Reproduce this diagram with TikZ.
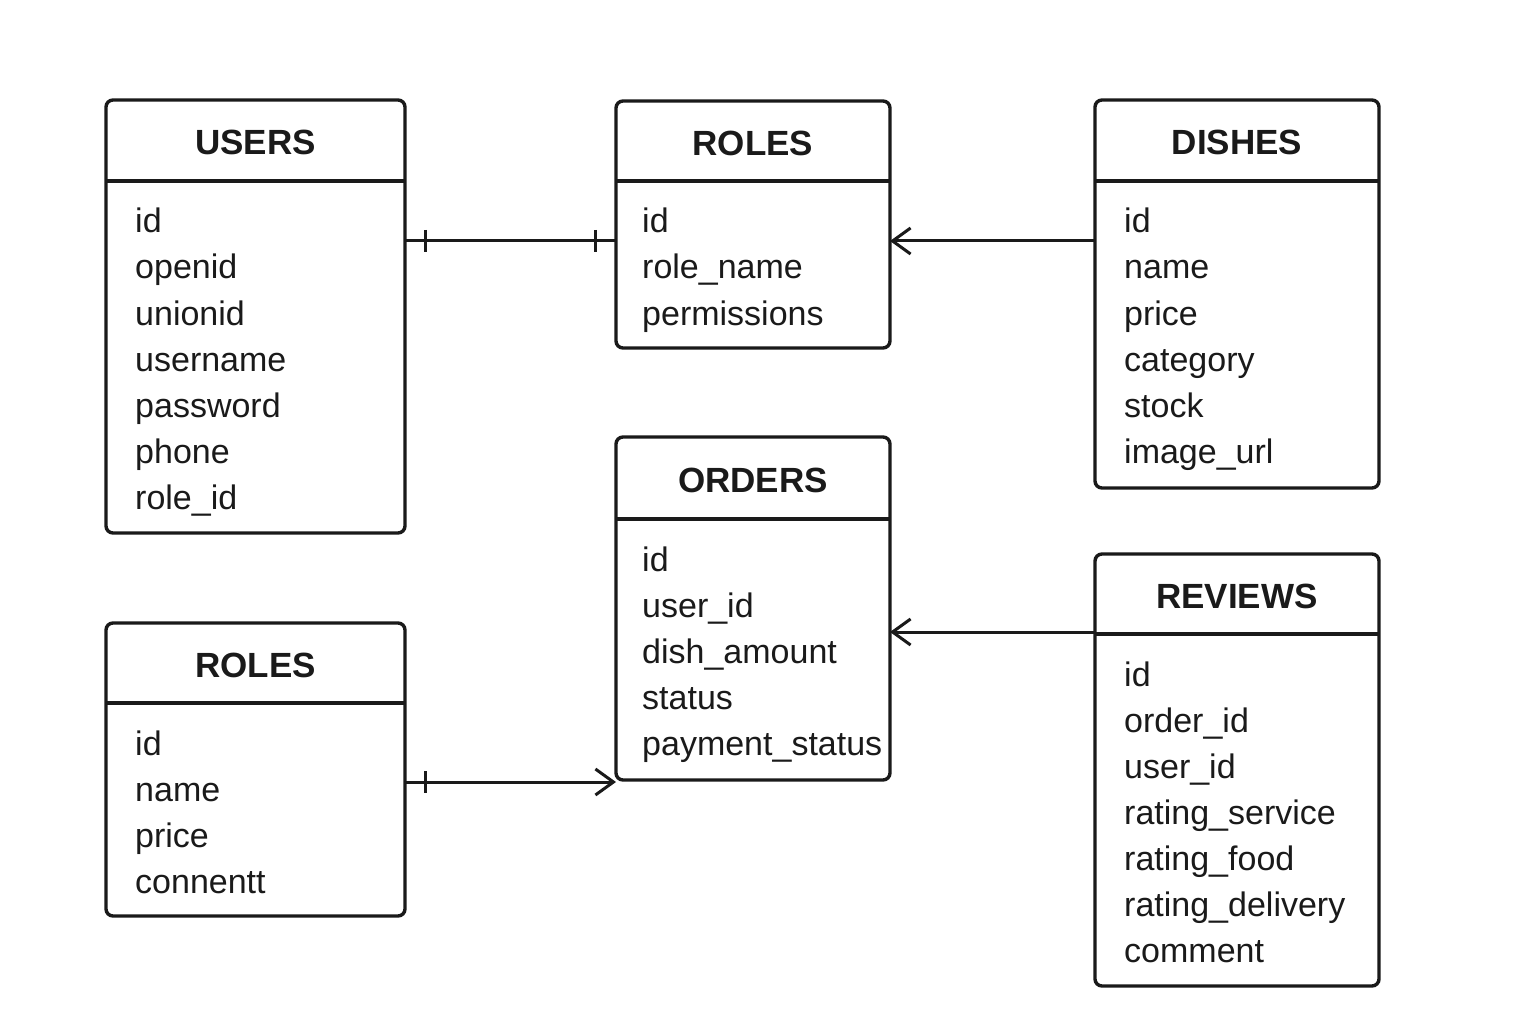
\documentclass[tikz,border=0pt]{standalone}
\usepackage{fontspec}
\setmainfont{Liberation Sans}
\usetikzlibrary{arrows.meta,calc}
\definecolor{ink}{HTML}{1A1A1A}
\begin{document}
\begin{tikzpicture}[x=1pt,y=-1pt,
  tbl/.style={draw=ink, line width=3.4pt, rounded corners=7pt, inner sep=0pt, outer sep=0pt, anchor=north west},
  ttl/.style={font=\fontsize{35}{40}\selectfont\bfseries, text=ink, inner sep=0pt},
  fld/.style={font=\fontsize{34}{40}\selectfont, anchor=base west, inner sep=0pt, text=ink},
  conn/.style={draw=ink, line width=3pt},
  tip/.style={-{Straight Barb[length=18pt,width=26pt,line width=3pt]}}
]
\useasboundingbox (0,0) rectangle (1536,1024);
\fill[white] (0,0) rectangle (1536,1024);

\newcommand\ertable[9]{%
  \node[tbl, minimum width={#4-#2}, minimum height={#5-#3}] (#1) at (#2,#3) {};
  \draw[draw=ink, line width=3.4pt] (#2,#6) -- (#4,#6);
  \node[ttl] (#1-t) at ({(#2+#4)/2},{(#3+#6)/2+2}) {#7};
  \foreach \f [count=\i] in {#8}
    \node[fld] (#1-f\i) at ({#2+#9},{#6+52+46*(\i-1)}) {\f};
}

\ertable{users}{106}{100}{405}{533}{181}{USERS}{id,openid,unionid,username,password,phone,role\_id}{29}
\ertable{rolesa}{616}{101}{890}{348}{181}{ROLES}{id,role\_name,permissions}{26}
\ertable{dishes}{1095}{100}{1379}{488}{181}{DISHES}{id,name,price,category,stock,image\_url}{29}
\ertable{orders}{616}{437}{890}{780}{519}{ORDERS}{id,user\_id,dish\_amount,status,payment\_status}{26}
\ertable{reviews}{1095}{554}{1379}{986}{634}{REVIEWS}{id,order\_id,user\_id,rating\_service,rating\_food,rating\_delivery,comment}{29}
\ertable{rolesb}{106}{623}{405}{916}{703}{ROLES}{id,name,price,connentt}{29}

% USERS -- ROLES (one to one)
\draw[conn] (users.east |- 0,241) -- (rolesa.west |- 0,241);
\draw[conn] ($(users.east |- 0,230)+(20,0)$) -- ($(users.east |- 0,252)+(20,0)$);
\draw[conn] ($(rolesa.west |- 0,230)+(-21,0)$) -- ($(rolesa.west |- 0,252)+(-21,0)$);

% DISHES -> ROLES
\draw[conn,tip] (dishes.west |- 0,241) -- (rolesa.east |- 0,241);

% REVIEWS -> ORDERS
\draw[conn,tip] (reviews.west |- 0,632) -- (orders.east |- 0,632);

% ROLES -> ORDERS
\draw[conn,tip] (rolesb.east |- 0,782) -- (orders.west |- 0,782);
\draw[conn] ($(rolesb.east |- 0,771)+(20,0)$) -- ($(rolesb.east |- 0,793)+(20,0)$);
\end{tikzpicture}
\end{document}
